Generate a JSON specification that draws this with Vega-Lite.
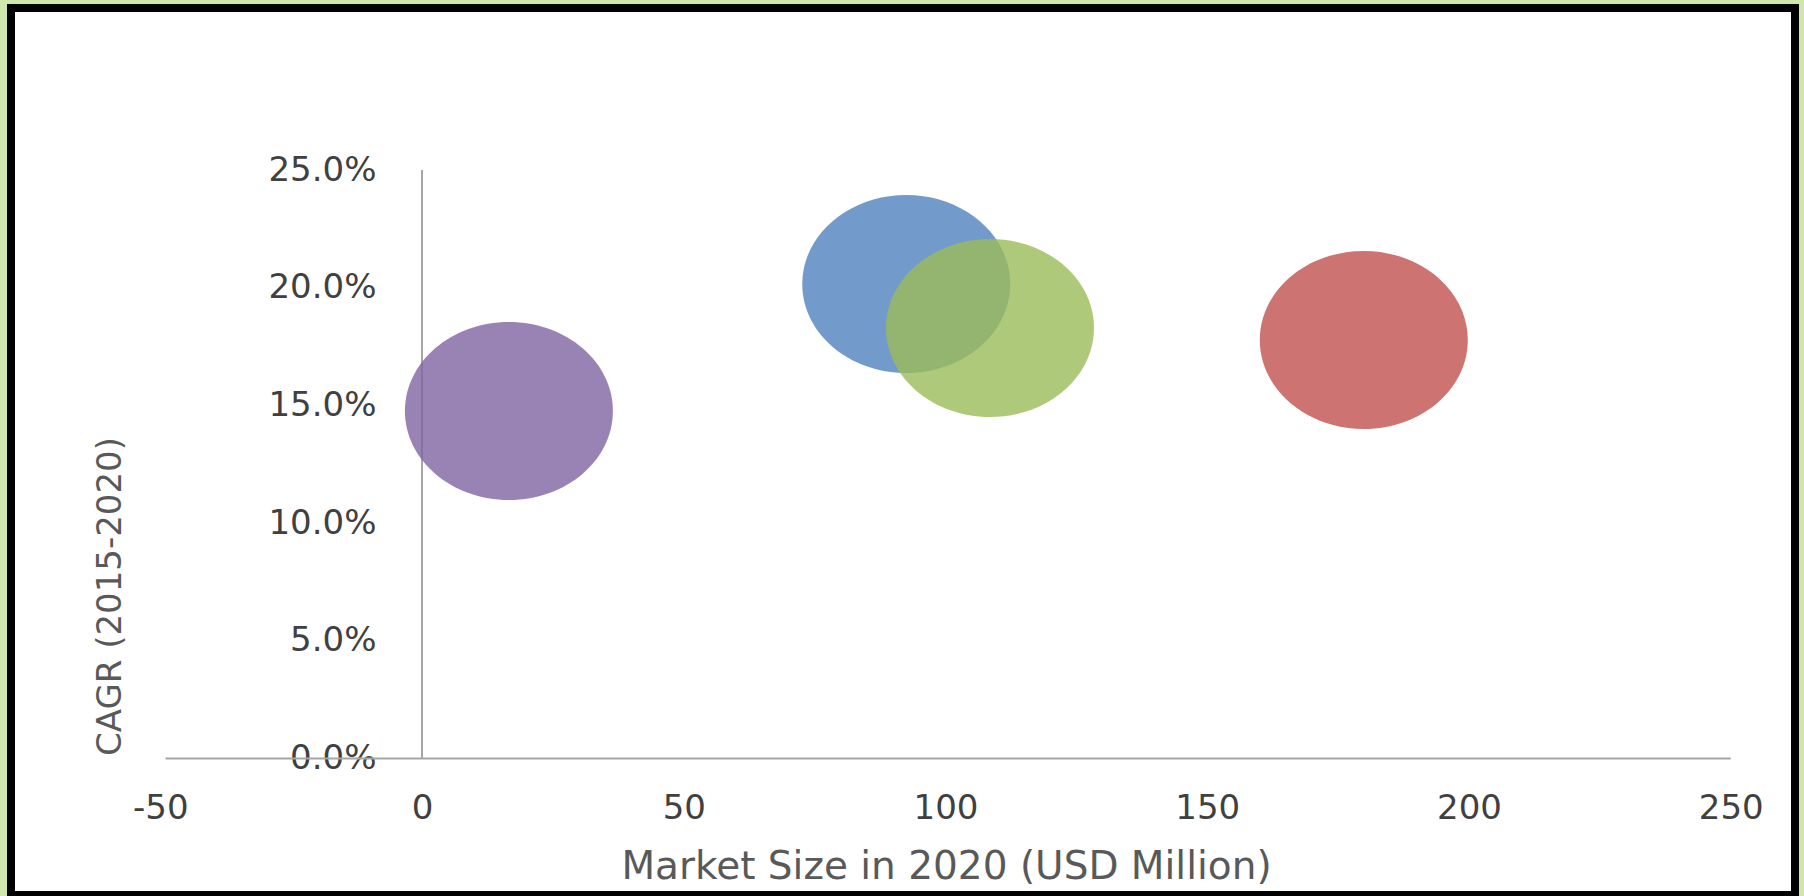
{
  "$schema": "https://vega.github.io/schema/vega-lite/v6.json",
  "autosize": "none",
  "width": 1784,
  "height": 887,
  "padding": {"left": 11, "top": 8, "right": 9, "bottom": 1},
  "background": "#cfe7ad",
  "view": {"stroke": "#000000", "strokeWidth": 8, "fill": "#ffffff"},
  "config": {
    "axis": {"grid": false, "ticks": false, "tickSize": 0, "domain": false}
  },
  "encoding": {
    "x": {
      "field": "size2020", "type": "quantitative",
      "scale": {"domain": [-78.51, 262.27], "nice": false, "zero": false},
      "axis": {
        "orient": "bottom", "offset": -136.5,
        "values": [-50, 0, 50, 100, 150, 200, 250],
        "labelExpr": "'' + datum.value",
        "labelFont": "DejaVu Sans", "labelFontSize": 34, "labelColor": "#404040",
        "labelBaseline": "top", "labelPadding": 33, "labelFlush": false,
        "title": "Market Size in 2020 (USD Million)",
        "titleFont": "DejaVu Sans", "titleFontSize": 39, "titleFontWeight": "normal", "titleColor": "#595959",
        "titleX": 935, "titleY": 107.5, "titleAlign": "center", "titleBaseline": "middle"
      }
    },
    "y": {
      "field": "cagr", "type": "quantitative",
      "scale": {"domain": [-0.05799, 0.31882], "nice": false, "zero": false},
      "axis": {
        "orient": "left", "offset": -411,
        "values": [0, 0.05, 0.1, 0.15, 0.2, 0.25],
        "format": ".1%",
        "labelFont": "DejaVu Sans", "labelFontSize": 34, "labelColor": "#404040",
        "labelPadding": 46, "labelBaseline": "middle", "labelFlush": false,
        "title": "CAGR (2015-2020)",
        "titleFont": "DejaVu Sans", "titleFontSize": 34, "titleFontWeight": "normal", "titleColor": "#595959",
        "titleX": -312, "titleY": 588, "titleAngle": -90, "titleAlign": "center", "titleBaseline": "middle"
      }
    }
  },
  "layer": [
    {
      "data": {"values": [
        {"size2020": -49, "size2020_end": 250, "cagr": 0, "cagr_end": 0},
        {"size2020": 0, "size2020_end": 0, "cagr": 0, "cagr_end": 0.25}
      ]},
      "mark": {"type": "rule", "color": "#a6a6a6", "strokeWidth": 2},
      "encoding": {
        "x2": {"field": "size2020_end"},
        "y2": {"field": "cagr_end"}
      }
    },
    {
      "data": {"values": [
        {"segment": "Segment 1", "size2020": 16.6, "cagr": 0.1476},
        {"segment": "Segment 2", "size2020": 92.5, "cagr": 0.2016},
        {"segment": "Segment 3", "size2020": 108.5, "cagr": 0.1829},
        {"segment": "Segment 4", "size2020": 179.9, "cagr": 0.1778}
      ]},
      "mark": {
        "type": "point",
        "filled": true,
        "opacity": 0.8,
        "strokeWidth": 0,
        "size": 43264,
        "shape": "M 1 0 C 1 0.4727 0.5523 0.856 0 0.856 C -0.5523 0.856 -1 0.4727 -1 0 C -1 -0.4727 -0.5523 -0.856 0 -0.856 C 0.5523 -0.856 1 -0.4727 1 0 Z"
      },
      "encoding": {
        "color": {
          "field": "segment", "type": "nominal",
          "scale": {"domain": ["Segment 1", "Segment 2", "Segment 3", "Segment 4"], "range": ["#8064A2", "#4F81BD", "#9BBB59", "#C0504D"]},
          "legend": null
        }
      }
    }
  ]
}
